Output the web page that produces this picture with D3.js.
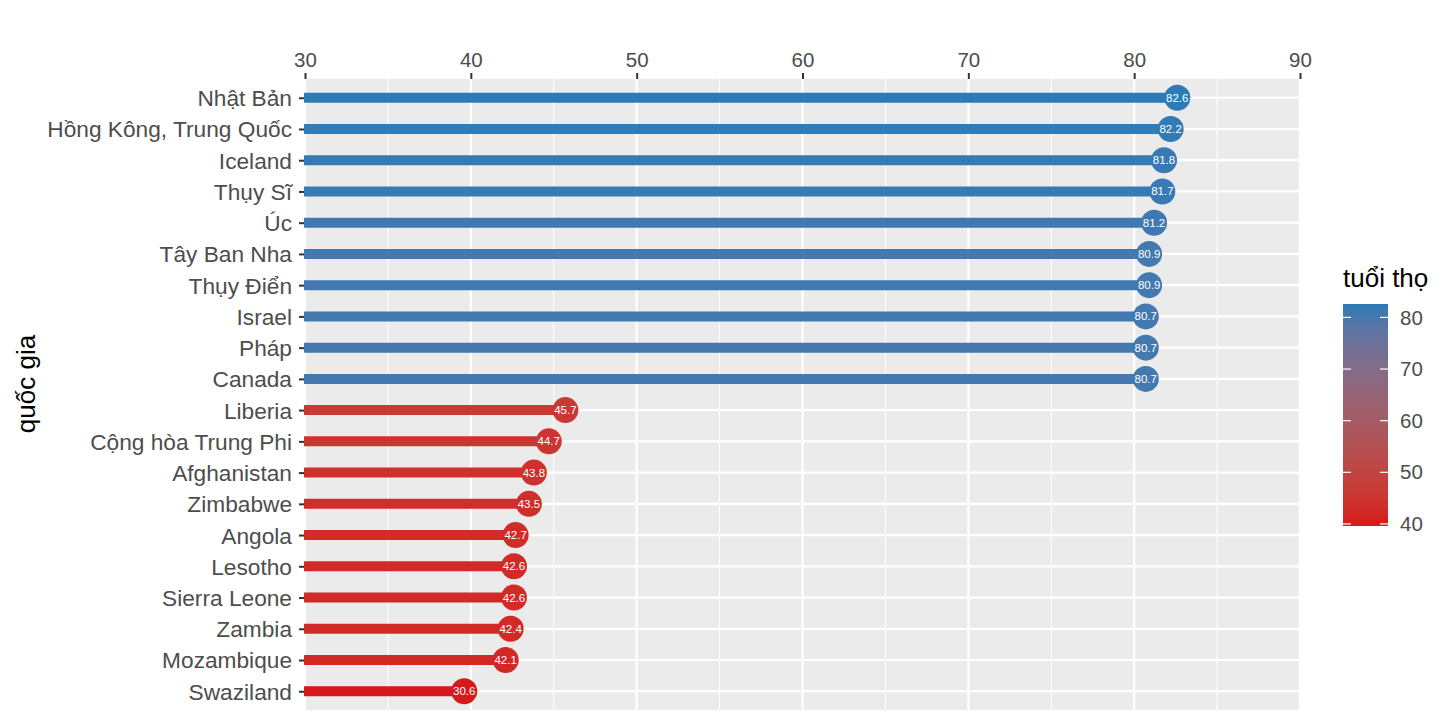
<!DOCTYPE html>
<html>
<head>
<meta charset="utf-8">
<script src="https://cdn.jsdelivr.net/npm/d3@7"></script>
<style>
  body { margin: 0; background: #fff; }
  text { font-family: "Liberation Sans", Arial, sans-serif; }
</style>
</head>
<body>
<div id="chart"></div>
<script>
// countries, top to bottom
var countries = ["Nhật Bản", "Hồng Kông, Trung Quốc", "Iceland", "Thụy Sĩ", "Úc",
	"Tây Ban Nha", "Thụy Điển", "Israel", "Pháp", "Canada",
	"Liberia", "Cộng hòa Trung Phi", "Afghanistan", "Zimbabwe", "Angola",
	"Lesotho", "Sierra Leone", "Zambia", "Mozambique", "Swaziland"];
var lifeExp = [82.6, 82.2, 81.8, 81.7, 81.2, 80.9, 80.9, 80.7, 80.7, 80.7,
	45.7, 44.7, 43.8, 43.5, 42.7, 42.6, 42.6, 42.4, 42.1, 39.6];
// texts printed inside the dots, as they appear on the chart
var pointLabels = ["82.6", "82.2", "81.8", "81.7", "81.2", "80.9", "80.9", "80.7", "80.7", "80.7",
	"45.7", "44.7", "43.8", "43.5", "42.7", "42.6", "42.6", "42.4", "42.1", "30.6"];
var xTicks = [30, 40, 50, 60, 70, 80, 90];
var xMinor = [35, 45, 55, 65, 75, 85];
var legendTicks = [40, 50, 60, 70, 80];

var width = 1456, height = 720;
var panel = {left: 305, right: 1300, top: 79, bottom: 710};

var svg = d3.select("#chart").append("svg")
	.attr("width", width)
	.attr("height", height);

var x = d3.scaleLinear().domain([30, 90]).range([panel.left, panel.right]);
var y = d3.scalePoint().domain(countries).range([panel.top, panel.bottom]).padding(0.6);

var colorMin = d3.min(lifeExp), colorMax = d3.max(lifeExp);
var color = d3.scaleLinear()
	.domain([colorMin, colorMax])
	.range(["#d7191c", "#2c7bb6"])
	.interpolate(d3.interpolateLab);

// panel background
svg.append("rect")
	.attr("x", panel.left).attr("y", panel.top)
	.attr("width", panel.right - panel.left)
	.attr("height", panel.bottom - panel.top)
	.attr("fill", "#ebebeb");

var grid = svg.append("g");
xMinor.forEach(function(v){
	grid.append("line")
		.attr("x1", x(v)).attr("x2", x(v))
		.attr("y1", panel.top).attr("y2", panel.bottom)
		.attr("stroke", "#fff").attr("stroke-width", 1);
});
xTicks.forEach(function(v){
	grid.append("line")
		.attr("x1", x(v)).attr("x2", x(v))
		.attr("y1", panel.top).attr("y2", panel.bottom)
		.attr("stroke", "#fff").attr("stroke-width", 2.2);
});
countries.forEach(function(c){
	grid.append("line")
		.attr("x1", panel.left).attr("x2", panel.right)
		.attr("y1", y(c)).attr("y2", y(c))
		.attr("stroke", "#fff").attr("stroke-width", 2.2);
});

// top axis
var xAxis = svg.append("g")
	.attr("transform", "translate(0," + panel.top + ")")
	.call(d3.axisTop(x).tickValues(xTicks).tickSize(6).tickPadding(6));
xAxis.select(".domain").remove();
xAxis.selectAll(".tick line").attr("stroke", "#333").attr("stroke-width", 2);
xAxis.selectAll(".tick text")
	.attr("fill", "#4d4d4d")
	.style("font-size", "20.5px");

// left axis
var yAxis = svg.append("g")
	.attr("transform", "translate(" + panel.left + ",0)")
	.call(d3.axisLeft(y).tickSize(6).tickPadding(7));
yAxis.select(".domain").remove();
yAxis.selectAll(".tick line").attr("stroke", "#333").attr("stroke-width", 2);
yAxis.selectAll(".tick text")
	.attr("fill", "#4d4d4d")
	.attr("dy", "0.35em")
	.style("font-size", "22.7px");

svg.append("text")
	.attr("transform", "translate(35,384) rotate(-90)")
	.attr("text-anchor", "middle")
	.style("font-size", "26px")
	.attr("fill", "#000")
	.text("quốc gia");

// lollipops
var data = countries.map(function(c, i){
	return {country: c, value: lifeExp[i], label: pointLabels[i]};
});

svg.append("g").selectAll("line")
	.data(data).enter().append("line")
	.attr("x1", x(30) - 1).attr("x2", function(d){ return x(d.value); })
	.attr("y1", function(d){ return y(d.country); })
	.attr("y2", function(d){ return y(d.country); })
	.attr("stroke", function(d){ return color(d.value); })
	.attr("stroke-width", 10);

svg.append("g").selectAll("circle")
	.data(data).enter().append("circle")
	.attr("cx", function(d){ return x(d.value); })
	.attr("cy", function(d){ return y(d.country); })
	.attr("r", 13)
	.attr("fill", function(d){ return color(d.value); });

svg.append("g").selectAll("text")
	.data(data).enter().append("text")
	.attr("x", function(d){ return x(d.value); })
	.attr("y", function(d){ return y(d.country); })
	.attr("dy", "0.35em")
	.attr("text-anchor", "middle")
	.attr("fill", "#fff")
	.style("font-size", "11.5px")
	.text(function(d){ return d.label; });

// colour legend
var leg = {x: 1343, top: 304, bottom: 526, w: 45};
var defs = svg.append("defs");
var grad = defs.append("linearGradient")
	.attr("id", "lifeGrad")
	.attr("x1", 0).attr("x2", 0).attr("y1", 1).attr("y2", 0);
d3.range(0, 1.0001, 0.1).forEach(function(t){
	grad.append("stop")
		.attr("offset", t)
		.attr("stop-color", color(colorMin + t * (colorMax - colorMin)));
});

svg.append("text")
	.attr("x", leg.x).attr("y", 287)
	.style("font-size", "26px")
	.attr("fill", "#000")
	.text("tuổi thọ");

svg.append("rect")
	.attr("x", leg.x).attr("y", leg.top)
	.attr("width", leg.w).attr("height", leg.bottom - leg.top)
	.attr("fill", "url(#lifeGrad)");

var legY = d3.scaleLinear().domain([colorMin, colorMax]).range([leg.bottom, leg.top]);
var legG = svg.append("g");
legendTicks.forEach(function(v){
	legG.append("line")
		.attr("x1", leg.x).attr("x2", leg.x + 8)
		.attr("y1", legY(v)).attr("y2", legY(v))
		.attr("stroke", "#fff").attr("stroke-width", 1.2);
	legG.append("line")
		.attr("x1", leg.x + leg.w - 8).attr("x2", leg.x + leg.w)
		.attr("y1", legY(v)).attr("y2", legY(v))
		.attr("stroke", "#fff").attr("stroke-width", 1.2);
	legG.append("text")
		.attr("x", leg.x + leg.w + 12)
		.attr("y", legY(v))
		.attr("dy", "0.35em")
		.style("font-size", "20.5px")
		.attr("fill", "#4d4d4d")
		.text(v);
});
</script>
</body>
</html>
